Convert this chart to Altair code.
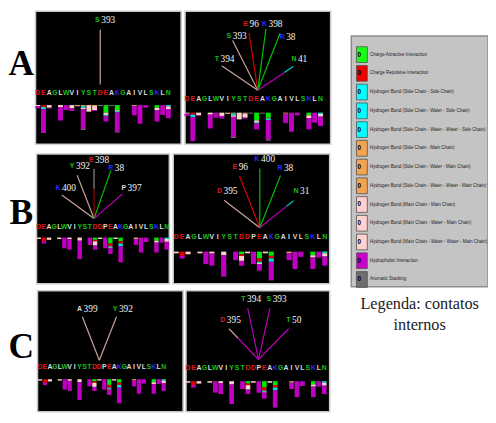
import altair as alt
import pandas as pd

# ---------------- data ----------------
SEQ_A = list("DEAGLWVIYSTDEAKGAIVLSKLN")
SEQ_BC = list("DEAGLWVIYSTDDPEAKGAIVLSKLN")

RED, BLUE, GREEN, WHITE = "#e01818", "#2a2aff", "#18c018", "#dcdcdc"
RES_COLORS = {"D": RED, "E": RED, "K": BLUE, "R": BLUE, "S": GREEN, "T": GREEN,
              "Y": GREEN, "N": GREEN, "W": GREEN, "G": GREEN}

SEG_COLORS = {"att": "#00e600", "rep": "#e60000", "sc": "#00e0e0", "scmc": "#e0a060",
              "mc": "#ffd0cc", "hyd": "#c000c0", "aro": "#707070"}

# contact profile per residue (segments from top to bottom)
PROFILE_A = [
    [("mc", 1.0), ("hyd", 2.3)],
    [("rep", 2.0), ("sc", 2.3), ("hyd", 24.1)],
    [("mc", 2.7), ("hyd", 0.7)],
    [],
    [("mc", 2.0), ("hyd", 13.7)],
    [("hyd", 5.0)],
    [("mc", 3.3), ("hyd", 2.7)],
    [("scmc", 1.3)],
    [("scmc", 1.0), ("sc", 1.7), ("mc", 1.5), ("hyd", 20.1), ("aro", 1.0)],
    [("mc", 6.7)],
    [("scmc", 1.0), ("mc", 4.0), ("hyd", 1.0)],
    [("aro", 1.0)],
    [("att", 7.7), ("mc", 2.3), ("sc", 1.0), ("hyd", 5.7)],
    [("aro", 1.0)],
    [("att", 5.0), ("scmc", 1.0), ("sc", 1.5), ("hyd", 19.5), ("aro", 1.0)],
    [],
    [],
    [("scmc", 1.0), ("hyd", 9.4)],
    [("hyd", 19.0)],
    [("hyd", 2.7)],
    [],
    [("att", 2.7), ("mc", 2.7), ("hyd", 11.3)],
    [("hyd", 10.0)],
    [("sc", 1.3), ("mc", 2.7), ("hyd", 9.4)],
]

PROFILE_BC = [
    [("mc", 1.7)],
    [("rep", 4.3), ("hyd", 2.7)],
    [("mc", 2.7)],
    [],
    [("mc", 1.7)],
    [("hyd", 12.7)],
    [("mc", 2.0), ("hyd", 12.3)],
    [],
    [("mc", 3.7), ("hyd", 21.7)],
    [],
    [("hyd", 8.7)],
    [("att", 2.7), ("rep", 1.7), ("mc", 5.0), ("hyd", 5.0)],
    [("mc", 1.7)],
    [("hyd", 12.7)],
    [("att", 7.0), ("rep", 3.3), ("sc", 1.3), ("mc", 1.0), ("hyd", 6.7)],
    [("mc", 1.7)],
    [("att", 4.3), ("rep", 2.7), ("sc", 3.3), ("hyd", 19.0)],
    [],
    [],
    [("scmc", 1.7), ("hyd", 7.0)],
    [("hyd", 17.7)],
    [("hyd", 5.3)],
    [],
    [("att", 3.7), ("mc", 2.3), ("hyd", 11.7)],
    [("hyd", 6.0)],
    [("sc", 1.7), ("mc", 3.3), ("hyd", 9.3)],
]

LINE_COLORS = {"tan": "#caa49b", "green": "#00c400", "red": "#d40000", "mag": "#b800b8",
               "cyan": "#00d4d4", "dred": "#a40000", "gray": "#8c8c8c"}

# contacts: (residue, number, line colours, split, end residue, end height, label residue, label height)
CONTACTS_AL = [("S", "393", ["tan"], 1.0, 11.0, 76.6, 11.04, 86.0)]
CONTACTS_AR = [
    ("T", "394", ["tan"], 1.0, 5.98, 47.7, 5.64, 54.3),
    ("S", "393", ["tan"], 1.0, 7.85, 73.3, 7.75, 77.7),
    ("E", "96", ["red"], 1.0, 10.68, 81.0, 10.63, 90.3),
    ("K", "398", ["green"], 1.0, 13.6, 85.3, 13.9, 90.3),
    ("R", "38", ["green"], 1.0, 16.05, 81.0, 16.95, 76.7),
    ("N", "41", ["mag", "cyan"], 0.75, 18.3, 47.0, 18.98, 54.3),
]
CONTACTS_BL = [
    ("K", "400", ["tan"], 1.0, 4.5, 43.3, 4.37, 50.7),
    ("Y", "392", ["tan"], 1.0, 7.5, 63.3, 7.12, 72.3),
    ("E", "398", ["dred", "gray"], 0.6, 10.8, 70.0, 10.85, 79.0),
    ("R", "38", ["green"], 1.0, 14.1, 68.3, 14.7, 71.0),
    ("P", "397", ["mag"], 1.0, 16.35, 44.3, 17.2, 50.7),
]
CONTACTS_BR = [
    ("D", "395", ["tan"], 1.0, 8.06, 52.3, 7.83, 61.4),
    ("E", "96", ["red"], 1.0, 10.65, 76.8, 10.38, 86.1),
    ("K", "400", ["green"], 1.0, 14.07, 84.5, 14.16, 93.8),
    ("R", "38", ["green"], 1.0, 17.55, 77.3, 18.0, 85.3),
    ("N", "31", ["mag", "cyan"], 0.79, 19.75, 51.8, 20.7, 61.3),
]
CONTACTS_CL = [
    ("A", "399", ["tan"], 1.0, 8.57, 63.5, 8.65, 71.1),
    ("Y", "392", ["tan"], 1.0, 15.47, 63.5, 15.8, 71.0),
]
CONTACTS_CR = [
    ("D", "395", ["mag", "tan"], 0.7, 7.53, 53.3, 6.98, 61.7),
    ("T", "394", ["mag"], 1.0, 10.96, 74.3, 10.7, 83.3),
    ("S", "393", ["mag"], 1.0, 15.04, 74.3, 15.4, 83.3),
    ("T", "50", ["mag"], 1.0, 18.47, 53.3, 18.95, 61.7),
]

ROW_LABELS = ["A", "B", "C"]

LEG_LABELS = [
    "Charge Attractive Interaction",
    "Charge Repulsive Interaction",
    "Hydrogen Bond (Side Chain - Side Chain)",
    "Hydrogen Bond (Side Chain - Water - Side Chain)",
    "Hydrogen Bond (Side Chain - Water - Water - Side Chain)",
    "Hydrogen Bond (Side Chain - Main Chain)",
    "Hydrogen Bond (Side Chain - Water - Main Chain)",
    "Hydrogen Bond (Side Chain - Water - Water - Main Chain)",
    "Hydrogen Bond (Main Chain - Main Chain)",
    "Hydrogen Bond (Main Chain - Water - Main Chain)",
    "Hydrogen Bond (Main Chain - Water - Water - Main Chain)",
    "Hydrophobic Interaction",
    "Aromatic Stacking",
]
LEG_COLORS = ["#14ff14", "#f00000", "#00ffff", "#00ffff", "#00ffff", "#f4a450", "#f4a450",
              "#f4a450", "#ffd0d0", "#ffd0d0", "#ffd0d0", "#cc00cc", "#6e6e6e"]
LEG_COUNTS = ["0"] * 13
CAPTION = ["Legenda: contatos", "internos"]

TOTAL_W, TOTAL_H = 488, 407


# ---------------- panel builder ----------------
def panel(seq, profile, g, contacts):
    left, top, W, H = g["box"]
    x0, dx, base, k = g["x0"], g["dx"], g["base"], g["k"]
    xdom = [-x0 / dx, (W - x0) / dx]
    ydom = [base - H, base]
    xsc = alt.Scale(domain=xdom, range=[left, left + W], nice=False, zero=False)
    ysc = alt.Scale(domain=ydom, range=[top + H, top], nice=False, zero=False)

    def X(f):
        return alt.X(f + ":Q", scale=xsc, axis=None)

    def Y(f):
        return alt.Y(f + ":Q", scale=ysc, axis=None)

    col = alt.Color("c:N", scale=None)

    bg = alt.Chart(pd.DataFrame(dict(a=[xdom[0]], a2=[xdom[1]], b=[ydom[0]], b2=[ydom[1]]))).mark_rect(
        fill="black", stroke="#c8c8c8", strokeWidth=1.5).encode(
        x=X("a"), x2="a2", y=Y("b"), y2="b2")

    rows = []
    for i, segs in enumerate(profile):
        cum = 0.0
        for key, val in segs:
            rows.append(dict(r0=i - 0.43, r1=i + 0.43, v0=-cum * k,
                             v1=-(cum + val) * k, c=SEG_COLORS[key]))
            cum += val
    bars = alt.Chart(pd.DataFrame(rows)).mark_rect().encode(
        x=X("r0"), x2="r1", y=Y("v0"), y2="v1", color=col)

    let_df = pd.DataFrame(dict(r=list(range(len(seq))), v=[g["letter_v"]] * len(seq),
                               t=seq, c=[RES_COLORS.get(ch, WHITE) for ch in seq]))
    letters = alt.Chart(let_df).mark_text(font="Liberation Sans", fontSize=7,
                                          fontWeight="bold", baseline="middle").encode(
        x=X("r"), y=Y("v"), text="t:N", color=col)

    hr, hv = g["hub"]
    segs = []
    labs = []
    for res, num, cols, split, er, ev, lr, lv in contacts:
        if len(cols) == 1:
            segs.append(dict(a=hr, b=hv, a2=er, b2=ev, c=LINE_COLORS[cols[0]]))
        else:
            mr, mv = hr + split * (er - hr), hv + split * (ev - hv)
            segs.append(dict(a=hr, b=hv, a2=mr, b2=mv, c=LINE_COLORS[cols[0]]))
            segs.append(dict(a=mr, b=mv, a2=er, b2=ev, c=LINE_COLORS[cols[1]]))
        labs.append(dict(r=lr, v=lv, p=res, n=num, c=RES_COLORS.get(res, WHITE)))
    lines = alt.Chart(pd.DataFrame(segs)).mark_rule(strokeWidth=1.2).encode(
        x=X("a"), y=Y("b"), x2="a2", y2="b2", color=col)
    lab_df = pd.DataFrame(labs)
    pre = alt.Chart(lab_df).mark_text(font="Liberation Sans", fontSize=7, fontWeight="bold",
                                      align="right", baseline="middle", dx=-0.8).encode(
        x=X("r"), y=Y("v"), text="p:N", color=col)
    nums = alt.Chart(lab_df).mark_text(font="Liberation Serif", fontSize=9.5, color="#f4f4f4",
                                       align="left", baseline="middle", dx=0.8).encode(
        x=X("r"), y=Y("v"), text="n:N")

    return alt.layer(bg, bars, lines, letters, pre, nums)


# panel geometry: box = (left, top, width, height) in the chart's pixel frame
G_AL = dict(box=(28, 0, 148, 135), x0=2.3, dx=5.77, base=95.3, k=1.0, letter_v=12.3, hub=(11.0, 21.0))
G_AR = dict(box=(180, 0, 148, 135), x0=2.0, dx=5.9, base=103.0, k=1.02, letter_v=14.3, hub=(12.2, 22.7))
G_BL = dict(box=(29, 145, 135, 132), x0=2.3, dx=5.2, base=85.0, k=0.861, letter_v=11.0, hub=(10.8, 19.3))
G_BR = dict(box=(168, 145, 159, 132), x0=3.0, dx=6.04, base=99.3, k=1.0, letter_v=14.5, hub=(14.07, 24.2))
G_CL = dict(box=(30, 284, 148, 123), x0=2.5, dx=5.03, base=90.0, k=0.833, letter_v=12.7, hub=(12.0, 19.2))
G_CR = dict(box=(181, 284, 146, 123), x0=2.0, dx=5.54, base=92.0, k=0.917, letter_v=13.7, hub=(12.94, 22.0))

panels = [
    panel(SEQ_A, PROFILE_A, G_AL, CONTACTS_AL),
    panel(SEQ_A, PROFILE_A, G_AR, CONTACTS_AR),
    panel(SEQ_BC, PROFILE_BC, G_BL, CONTACTS_BL),
    panel(SEQ_BC, PROFILE_BC, G_BR, CONTACTS_BR),
    panel(SEQ_BC, PROFILE_BC, G_CL, CONTACTS_CL),
    panel(SEQ_BC, PROFILE_BC, G_CR, CONTACTS_CR),
]

# ---------------- row letters ----------------
row_marks = []
for letter, (cx, cy) in zip(ROW_LABELS, [(13.5, 54), (13.5, 205), (13.5, 341)]):
    row_marks.append(alt.Chart(pd.DataFrame({"t": [letter]})).mark_text(
        font="Liberation Serif", fontSize=36, fontWeight="bold", color="black",
        baseline="middle", align="center").encode(
        text="t:N", x=alt.value(cx), y=alt.value(cy)))

# ---------------- legend ----------------
leg_df = pd.DataFrame(dict(idx=list(range(13)), label=LEG_LABELS, c=LEG_COLORS, n=LEG_COUNTS))
ldom = [-19 / 19.05, -19 / 19.05 + 255 / 19.05]
lxsc = alt.Scale(domain=[0, 139], range=[349, 488], nice=False, zero=False)
lysc = alt.Scale(domain=ldom, range=[25, 280], nice=False, zero=False)
LX = lambda f: alt.X(f + ":Q", scale=lxsc, axis=None)
LY = lambda f: alt.Y(f + ":Q", scale=lysc, axis=None)

leg_bg = alt.Chart(pd.DataFrame(dict(a=[0], a2=[139], b=[ldom[0]], b2=[ldom[1]]))).mark_rect(
    fill="#c4c4c4", stroke="#8c8c8c", strokeWidth=1.5).encode(
    x=LX("a"), x2="a2", y=LY("b"), y2="b2")
sw = alt.Chart(leg_df).transform_calculate(
    y0="datum.idx - 0.42", y1="datum.idx + 0.42", xa="5.3", xb="16.3").mark_rect(
    stroke="#505050", strokeWidth=0.8).encode(
    x=LX("xa"), x2="xb:Q", y=LY("y0"), y2="y1:Q", color=alt.Color("c:N", scale=None))
zeros = alt.Chart(leg_df).transform_calculate(xz="8").mark_text(
    font="Liberation Sans", fontSize=6.5, fontWeight="bold", color="black",
    align="center", baseline="middle").encode(x=LX("xz"), y=LY("idx"), text="n:N")
labels = alt.Chart(leg_df).transform_calculate(xl="19").mark_text(
    font="Liberation Sans", fontSize=4.6, color="#1e1e1e", align="left",
    baseline="middle").encode(x=LX("xl"), y=LY("idx"), text="label:N")
legend = alt.layer(leg_bg, sw, zeros, labels)

cap_marks = []
for txt, cy in zip(CAPTION, [298, 319]):
    cap_marks.append(alt.Chart(pd.DataFrame({"t": [txt]})).mark_text(
        font="Liberation Serif", fontSize=16.5, color="#222222", align="center",
        baseline="middle").encode(text="t:N", x=alt.value(418.5), y=alt.value(cy)))

chart = alt.layer(*panels, legend, *row_marks, *cap_marks).resolve_scale(
    x="independent", y="independent").properties(
    width=TOTAL_W, height=TOTAL_H, padding=0, background="white",
    autosize=alt.AutoSizeParams(type="none")).configure_view(stroke=None)

chart.save("out.html", embed_options={"renderer": "svg", "actions": False})
